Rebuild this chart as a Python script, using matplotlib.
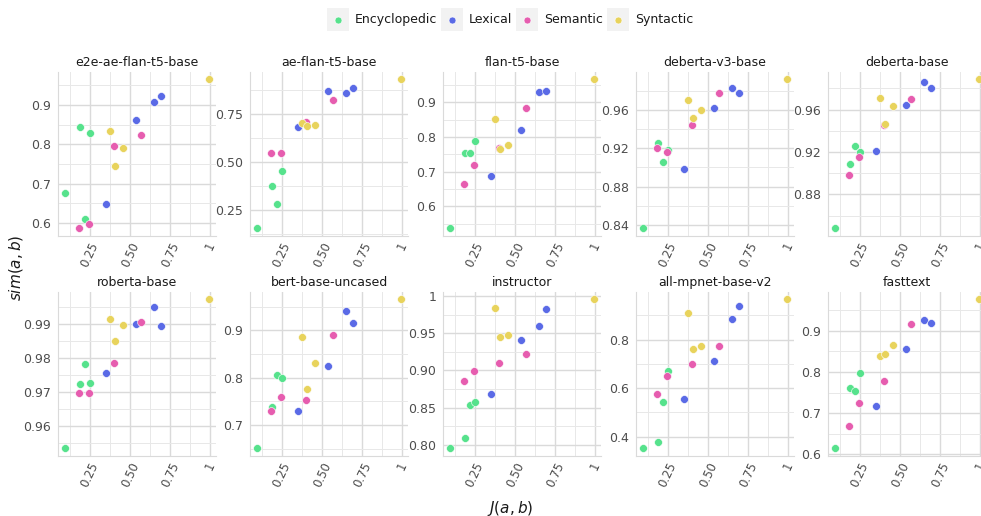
import matplotlib
matplotlib.use("Agg")
import matplotlib.pyplot as plt
from matplotlib.patches import Rectangle
from matplotlib.lines import Line2D
import numpy as np

# ---- data ----
categories = ["Encyclopedic", "Lexical", "Semantic", "Syntactic"]
colors = {"Encyclopedic": "#56E28C", "Lexical": "#5A6AE6", "Semantic": "#E65DAF", "Syntactic": "#E8D35C"}

relation_cat = (["Encyclopedic"] * 4 + ["Lexical"] * 4 + ["Semantic"] * 4 + ["Syntactic"] * 4)
jaccard = [0.095, 0.185, 0.22, 0.25,
           0.352, 0.535, 0.65, 0.695,
           0.183, 0.246, 0.398, 0.57,
           0.375, 0.404, 0.458, 0.99]

models = ["e2e-ae-flan-t5-base", "ae-flan-t5-base", "flan-t5-base", "deberta-v3-base", "deberta-base",
          "roberta-base", "bert-base-uncased", "instructor", "all-mpnet-base-v2", "fasttext"]

sim_e2e = [0.676, 0.845, 0.611, 0.830, 0.648, 0.862, 0.907, 0.924, 0.587, 0.598, 0.797, 0.824, 0.834, 0.744, 0.792, 0.966]
sim_ae = [0.155, 0.378, 0.279, 0.455, 0.683, 0.869, 0.862, 0.886, 0.550, 0.548, 0.710, 0.826, 0.702, 0.691, 0.695, 0.933]
sim_flan = [0.537, 0.755, 0.753, 0.790, 0.688, 0.820, 0.930, 0.932, 0.666, 0.719, 0.768, 0.883, 0.853, 0.766, 0.778, 0.967]
sim_debv3 = [0.8365, 0.9255, 0.906, 0.9176, 0.898, 0.962, 0.983, 0.978, 0.920, 0.916, 0.9444, 0.978, 0.9707, 0.951, 0.9597, 0.992]
sim_deb = [0.848, 0.909, 0.926, 0.920, 0.9206, 0.9644, 0.986, 0.9806, 0.898, 0.9156, 0.9453, 0.9697, 0.9713, 0.946, 0.963, 0.9888]
sim_roberta = [0.9536, 0.9724, 0.9784, 0.9728, 0.9756, 0.9899, 0.9949, 0.9893, 0.9697, 0.9699, 0.9786, 0.9906, 0.9914, 0.985, 0.9896, 0.9973]
sim_bert = [0.651, 0.738, 0.806, 0.800, 0.730, 0.824, 0.942, 0.915, 0.729, 0.760, 0.752, 0.8895, 0.887, 0.777, 0.831, 0.966]
sim_instructor = [0.7956, 0.8093, 0.854, 0.857, 0.868, 0.9407, 0.9598, 0.9827, 0.886, 0.8996, 0.910, 0.922, 0.9844, 0.945, 0.947, 0.9956]
sim_mpnet = [0.352, 0.378, 0.541, 0.672, 0.555, 0.710, 0.886, 0.938, 0.577, 0.648, 0.700, 0.773, 0.909, 0.762, 0.773, 0.967]
sim_fasttext = [0.615, 0.762, 0.754, 0.798, 0.718, 0.857, 0.926, 0.918, 0.669, 0.725, 0.779, 0.917, 0.838, 0.843, 0.866, 0.977]

sims = [sim_e2e, sim_ae, sim_flan, sim_debv3, sim_deb, sim_roberta, sim_bert, sim_instructor, sim_mpnet, sim_fasttext]

x_ticks = [0.25, 0.50, 0.75, 1.0]
x_ticklabels = ["0.25", "0.50", "0.75", "1"]

y_ticks = [
    [0.6, 0.7, 0.8, 0.9],
    [0.25, 0.50, 0.75],
    [0.6, 0.7, 0.8, 0.9],
    [0.84, 0.88, 0.92, 0.96, 1.0],
    [0.88, 0.92, 0.96],
    [0.96, 0.97, 0.98, 0.99],
    [0.7, 0.8, 0.9],
    [0.80, 0.85, 0.90, 0.95, 1.0],
    [0.4, 0.6, 0.8],
    [0.6, 0.7, 0.8, 0.9],
]
y_ticklabels = [
    ["0.6", "0.7", "0.8", "0.9"],
    ["0.25", "0.50", "0.75"],
    ["0.6", "0.7", "0.8", "0.9"],
    ["0.84", "0.88", "0.92", "0.96", "1"],
    ["0.88", "0.92", "0.96"],
    ["0.96", "0.97", "0.98", "0.99"],
    ["0.7", "0.8", "0.9"],
    ["0.80", "0.85", "0.90", "0.95", "1"],
    ["0.4", "0.6", "0.8"],
    ["0.6", "0.7", "0.8", "0.9"],
]

# ---- layout ----
W, H = 981, 516
fig = plt.figure(figsize=(W / 100, H / 100), dpi=100)
fig.patch.set_facecolor("white")

lefts = [58, 250, 443, 636, 828]
pw, ph = 158, 164
bottoms_px = [235.7, 455.7]

MAJ = "#dadada"
MINC = "#e8e8e8"
TXT = "#4d4d4d"


def minor_from(major, lo, hi):
    step = major[1] - major[0]
    cand = [major[0] - step / 2] + [m + step / 2 for m in major]
    return [c for c in cand if lo <= c <= hi]


for i, model in enumerate(models):
    r, c = divmod(i, 5)
    l = lefts[c]
    b = bottoms_px[r]
    ax = fig.add_axes([l / W, 1 - b / H, pw / W, ph / H])
    ax.set_facecolor("white")
    y = sims[i]
    for cat in categories:
        xs = [jaccard[k] for k in range(len(jaccard)) if relation_cat[k] == cat]
        ys = [y[k] for k in range(len(y)) if relation_cat[k] == cat]
        ax.scatter(xs, ys, s=32, color=colors[cat], edgecolors="white", linewidths=0.4, zorder=3)
    ax.margins(0.05)
    xl = ax.get_xlim()
    yl = ax.get_ylim()

    ax.set_xticks(x_ticks)
    ax.set_xticklabels(x_ticklabels)
    ax.set_yticks(y_ticks[i])
    ax.set_yticklabels(y_ticklabels[i])
    ax.set_xticks(minor_from(x_ticks, *xl), minor=True)
    ax.set_yticks(minor_from(y_ticks[i], *yl), minor=True)
    ax.set_xlim(xl)
    ax.set_ylim(yl)

    ax.grid(which="major", color=MAJ, linewidth=1.0, zorder=0)
    ax.grid(which="minor", color=MINC, linewidth=0.7, zorder=0)
    ax.set_axisbelow(True)
    for side in ["top", "right"]:
        ax.spines[side].set_visible(False)
    for side in ["left", "bottom"]:
        ax.spines[side].set_color(MAJ)
        ax.spines[side].set_linewidth(0.8)
    ax.tick_params(which="both", length=0)
    ax.tick_params(axis="y", labelsize=9, labelcolor=TXT, pad=5)
    ax.tick_params(axis="x", labelsize=8.5, labelcolor=TXT, pad=3)
    for lab in ax.get_xticklabels():
        lab.set_rotation(65)
        lab.set_ha("center")
        lab.set_va("top")
    ax.set_title(model, fontsize=9, color="#1a1a1a", pad=4)

# axis titles
fig.text(510 / W, 1 - 508 / H, r"$J(a, b)$", ha="center", va="center", fontsize=11, color="#1a1a1a")
fig.text(16 / W, 1 - 268 / H, r"$sim(a, b)$", ha="center", va="center", rotation=90, fontsize=11, color="#1a1a1a")

# legend (manual, ggplot-like keys)
key_x = [327, 441, 516, 607]
key_w, key_h = 22, 23
key_top = 8
for cat, kx in zip(categories, key_x):
    fig.patches.append(Rectangle((kx / W, 1 - (key_top + key_h) / H), key_w / W, key_h / H,
                                 transform=fig.transFigure, facecolor="#f2f2f2", edgecolor="none"))
    fig.lines.append(Line2D([(kx + key_w / 2) / W], [1 - (key_top + key_h / 2) / H], transform=fig.transFigure,
                            marker="o", markersize=5, color=colors[cat], markeredgecolor="white",
                            markeredgewidth=0.4, linestyle="none"))
    fig.text((kx + key_w + 6) / W, 1 - (key_top + key_h / 2) / H, cat, ha="left", va="center",
             fontsize=9, color="#1a1a1a")

fig.savefig("out.png", dpi=100)
